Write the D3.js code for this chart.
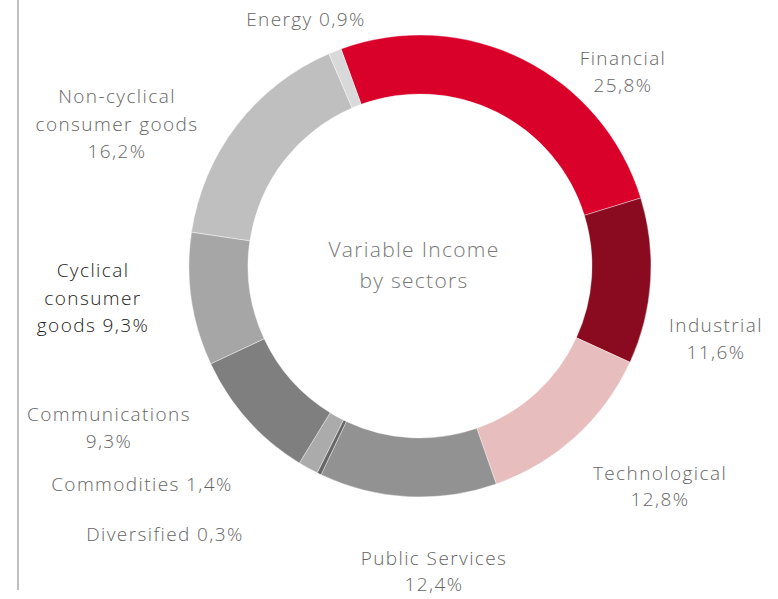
<!DOCTYPE html>
<html><head><meta charset="utf-8">
<script src="https://cdn.jsdelivr.net/npm/d3@7"></script>
<style>
html,body{margin:0;padding:0;background:#fff;}
svg text{font-family:"Open Sans",sans-serif;font-weight:300;}
</style></head>
<body><svg id="chart" width="778" height="599"></svg>
<script>
// Data
const sectors = ["Financial","Industrial","Technological","Public Services","Diversified","Commodities","Communications","Cyclical consumer goods","Non-cyclical consumer goods","Energy"];
const shares  = [25.8, 11.6, 12.8, 12.4, 0.3, 1.4, 9.3, 9.3, 16.2, 0.9];
const labelLines = [
  ["Financial","25,8%"],
  ["Industrial","11,6%"],
  ["Technological","12,8%"],
  ["Public Services","12,4%"],
  ["Diversified 0,3%"],
  ["Commodities 1,4%"],
  ["Communications","9,3%"],
  ["Cyclical","consumer","goods 9,3%"],
  ["Non-cyclical","consumer goods","16,2%"],
  ["Energy 0,9%"]
];
const centerTitle = ["Variable Income","by sectors"];

// Styles / layout
const colors = ["#d9002a","#8a0a1f","#e8bdbe","#929292","#666666","#ababab","#7f7f7f","#a6a6a6","#bfbfbf","#d9d9d9"];
const labelColors = ["#666","#666","#666","#666","#666","#666","#666","#222","#666","#666"];
// label anchor: [centerX, firstBaseline, lineHeight]
const labelPos = [[623,65,27],[716,332,27],[660,480,26],[434,565,26],[165,541,27],[142,491,27],[109,421,27],[93,277,27.5],[117,103,27.5],[306,26,27]];

const svg = d3.select("#chart");
const cx = 420, cy = 266, R = 231, r = 172;

// left vertical rule
svg.append("line").attr("x1",18).attr("x2",18).attr("y1",0).attr("y2",590)
  .attr("stroke","#aaaaaa").attr("stroke-width",1.5);

const startAngle = -20 * Math.PI / 180;
const pie = d3.pie().sort(null).value(d => d)
  .startAngle(startAngle).endAngle(startAngle + 2*Math.PI);
const arc = d3.arc().innerRadius(r).outerRadius(R);

const g = svg.append("g").attr("transform",`translate(${cx},${cy})`);
g.selectAll("path").data(pie(shares)).join("path")
  .attr("d", arc).attr("fill", (d,i) => colors[i])
  .attr("stroke","#fff").attr("stroke-width",0.4);

// labels
sectors.forEach((s,i) => {
  const t = svg.append("text").attr("text-anchor","middle")
    .attr("font-size",19).attr("letter-spacing",1.4)
    .attr("fill",labelColors[i]);
  labelLines[i].forEach((ln,k) => {
    t.append("tspan").attr("x",labelPos[i][0]).attr("y",labelPos[i][1] + k*labelPos[i][2]).text(ln);
  });
});

// center title
const ct = svg.append("text").attr("text-anchor","middle")
  .attr("font-size",21).attr("letter-spacing",1.3).attr("fill","#777");
centerTitle.forEach((ln,k) => {
  ct.append("tspan").attr("x",414).attr("y",257 + k*31).text(ln);
});
</script></body></html>
